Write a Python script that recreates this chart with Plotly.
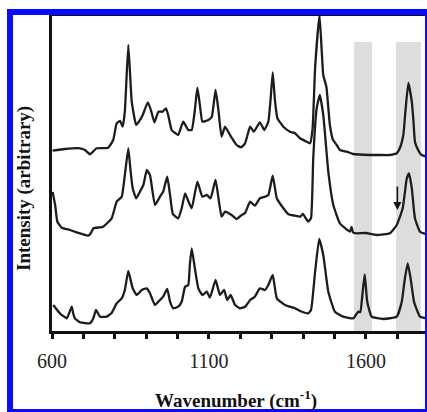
import plotly.graph_objects as go

# ---------------- data ----------------
# top spectrum
wn_top = [602, 641, 689, 705, 721, 742, 779, 795, 806, 817, 825, 832, 843, 854, 868, 878, 889,
          905, 915, 926, 939, 952, 963, 970, 981, 992, 1002, 1018, 1034, 1045, 1055, 1063, 1071,
          1079, 1098, 1109, 1121, 1130, 1140, 1151, 1167, 1188, 1202, 1215, 1231, 1243, 1262,
          1276, 1289, 1296, 1303, 1310, 1318, 1337, 1358, 1374, 1390, 1411, 1422, 1430, 1438,
          1452, 1464, 1474, 1485, 1495, 1507, 1517, 1539, 1559, 1613, 1639, 1676, 1698, 1708,
          1719, 1726, 1735, 1746, 1751, 1756, 1766, 1777, 1793]
int_top = [180.3, 182, 182.7, 181, 176.7, 182.7, 183.3, 191, 207.7, 210, 204.3, 219.3, 286, 229.3,
           206, 210, 216, 228.7, 221, 208.7, 219.3, 219.3, 222.7, 216, 201, 198, 196, 209.3, 201,
           201, 221, 243.3, 226, 209.3, 211, 214.3, 241, 221, 194.3, 204.3, 196, 186, 183.7, 187.7,
           204.3, 199.3, 208.7, 201, 209.3, 231, 258.7, 231, 212.7, 204.3, 199.3, 197.7, 192.7,
           189.3, 187.7, 202.7, 263, 316, 256, 244, 206, 191, 186, 181, 179.3, 177, 176, 176, 176,
           177.7, 183, 196, 221, 248, 229.3, 211, 189.3, 181, 176, 174.3]

# middle spectrum
wn_mid = [602, 610, 617, 631, 657, 689, 716, 724, 732, 763, 790, 806, 822, 832, 843, 850, 857,
          868, 880, 891, 902, 912, 928, 944, 954, 967, 976, 985, 1002, 1013, 1024, 1034, 1045,
          1063, 1079, 1093, 1105, 1121, 1140, 1151, 1172, 1188, 1204, 1215, 1231, 1246, 1262,
          1278, 1289, 1303, 1316, 1337, 1353, 1374, 1390, 1399, 1416, 1425, 1432, 1443, 1453,
          1464, 1480, 1496, 1517, 1549, 1554, 1559, 1570, 1600, 1634, 1676, 1698, 1717, 1730,
          1737, 1746, 1756, 1772, 1793]
int_mid = [139, 126, 109.3, 103.3, 101, 97.7, 95.3, 98, 102.7, 104.3, 112.7, 129.3, 134.3, 156,
           182.7, 161, 142.7, 132.7, 139.3, 146, 161, 156, 126, 134.3, 139.3, 154.3, 136, 117,
           112.7, 122.7, 137.7, 130, 122.7, 149.3, 134.3, 136, 132.7, 151, 114.3, 119.3, 116, 112,
           116, 118, 129.3, 125.3, 132.7, 134.3, 136, 155.3, 132.7, 122.7, 116.7, 115.3, 114.3,
           117, 109.3, 113, 172.7, 222.7, 236, 216, 159.3, 126, 107.7, 99.3, 104, 98.5, 97.7, 98,
           96, 97.7, 106, 122.7, 152.7, 157.7, 142.7, 112.7, 99.3, 96.7]

# bottom spectrum
wn_bot = [604, 625, 647, 656, 663, 668, 673, 689, 721, 732, 740, 753, 774, 790, 806, 822, 832,
          843, 857, 870, 886, 902, 912, 928, 944, 954, 967, 976, 986, 1002, 1013, 1024, 1034,
          1039, 1045, 1055, 1066, 1079, 1093, 1103, 1121, 1135, 1148, 1158, 1169, 1183, 1199,
          1215, 1231, 1246, 1262, 1278, 1289, 1303, 1316, 1342, 1374, 1390, 1416, 1425, 1438,
          1451, 1464, 1480, 1501, 1528, 1560, 1575, 1582, 1589, 1596, 1604, 1618, 1655, 1698,
          1714, 1724, 1733, 1742, 1753, 1772, 1793]
int_bot = [26, 17.7, 12.7, 19, 24.3, 17, 12.7, 8.7, 7.7, 13, 21, 14.3, 14.3, 18, 27.7, 32.7, 41,
           60, 42.7, 36, 41, 42.7, 37.7, 26, 31, 34.3, 42, 29.3, 22.7, 24.3, 29.3, 44.3, 46, 66,
           82.7, 62.7, 42.7, 36, 39.3, 33.3, 51, 36, 41, 31, 36, 26, 22.7, 24.3, 31, 34.3, 42.7,
           41, 46, 56, 32.7, 26, 22.7, 20, 17.7, 21, 59.3, 92, 76, 39.3, 19.3, 14.3, 12.7, 19.3,
           19, 37.7, 56.7, 29.3, 14.3, 12, 14.3, 29.3, 52.7, 67.7, 53, 29.3, 14.3, 12.7]

# highlighted regions (cm^-1) and the arrow position
bands = [(1562, 1619), (1696, 1775)]
band_top = 289
arrow_x = 1700
arrow_from, arrow_to = 146, 121

tick_vals = list(range(600, 1800, 100))
tick_text = [str(v) if v in (600, 1100, 1600) else "" for v in tick_vals]

# ---------------- layout geometry ----------------
W, H = 427, 412
ML, MR, MT, MB = 52, 2, 16, 81
PW, PH = W - ML - MR, H - MT - MB


def px(xp):
    return (xp - ML) / PW


def py(yp):
    return (H - MB - yp) / PH


SERIF = "Liberation Serif, Times New Roman, serif"
LINE = "#1c1c1c"

fig = go.Figure()
for wn, it in [(wn_top, int_top), (wn_mid, int_mid), (wn_bot, int_bot)]:
    fig.add_trace(go.Scatter(x=wn, y=it, mode="lines",
                             line=dict(color=LINE, width=2.3, shape="spline", smoothing=0.4),
                             showlegend=False, hoverinfo="skip"))

shapes = []
for a, b in bands:
    shapes.append(dict(type="rect", xref="x", yref="y", x0=a, x1=b, y0=0, y1=band_top,
                       fillcolor="#dddddd", line=dict(width=0), layer="below"))

BLUE = "#0a0aff"
frame = [(7, 9, 427, 15), (7, 9, 13, 412), (425, 9, 427, 412), (7, 409, 427, 412)]
for x0, y0, x1, y1 in frame:
    shapes.append(dict(type="rect", xref="paper", yref="paper",
                       x0=px(x0), x1=px(x1), y0=py(y1), y1=py(y0),
                       fillcolor=BLUE, line=dict(width=0), layer="above"))

annotations = [
    dict(x=arrow_x, y=arrow_to, ax=arrow_x, ay=arrow_from, xref="x", yref="y",
         axref="x", ayref="y", text="", showarrow=True, arrowhead=2, arrowsize=1,
         arrowwidth=1.6, arrowcolor="#111111"),
    dict(x=px(236), y=py(399), xref="paper", yref="paper", text="<b>Wavenumber (cm<sup>-1</sup>)</b>",
         showarrow=False, font=dict(family=SERIF, size=19, color="#111111"),
         xanchor="center", yanchor="middle"),
    dict(x=px(24), y=py(189), xref="paper", yref="paper", text="<b>Intensity (arbitrary)</b>",
         showarrow=False, textangle=-90, font=dict(family=SERIF, size=19, color="#111111"),
         xanchor="center", yanchor="middle"),
]

fig.update_layout(
    width=W, height=H,
    margin=dict(l=ML, r=MR, t=MT, b=MB, pad=0),
    paper_bgcolor="white", plot_bgcolor="white",
    shapes=shapes, annotations=annotations,
    xaxis=dict(range=[600, 1788], tickmode="array", tickvals=tick_vals, ticktext=tick_text,
               ticks="outside", ticklen=5, tickwidth=2.5, tickcolor="#111111",
               showline=True, linewidth=3, linecolor="#111111", mirror=True,
               showgrid=False, zeroline=False, ticklabelstandoff=5,
               tickfont=dict(family=SERIF, size=20, color="#222222")),
    yaxis=dict(range=[0, 315], showticklabels=False, ticks="", showline=True, linewidth=3,
               linecolor="#111111", showgrid=False, zeroline=False),
)

fig.write_html("out.html")
